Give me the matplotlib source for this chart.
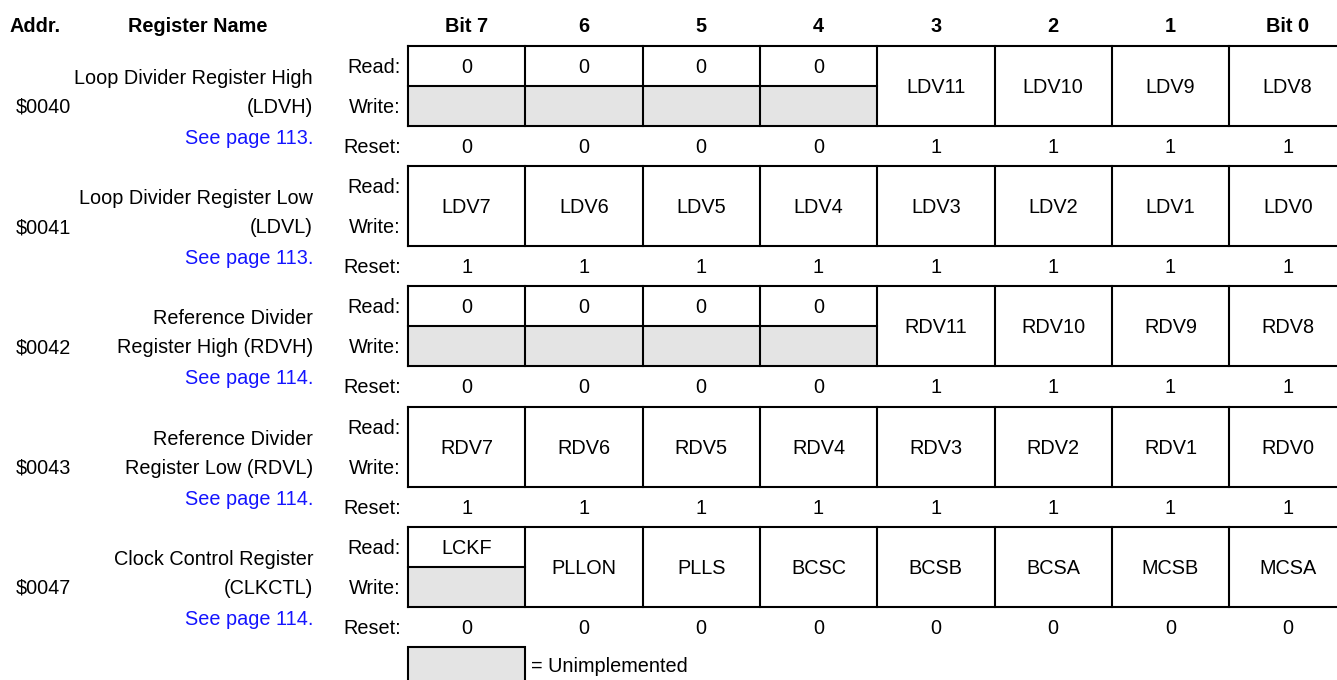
import matplotlib
matplotlib.use('Agg')
import matplotlib.pyplot as plt
from matplotlib.patches import Rectangle

plt.rcParams['font.family'] = ['Liberation Sans', 'DejaVu Sans']

# register map data
bit_headers = ['Bit 7', '6', '5', '4', '3', '2', '1', 'Bit 0']
addrs = ['$0040', '$0041', '$0042', '$0043', '$0047']
name_line1 = ['Loop Divider Register High', 'Loop Divider Register Low',
              'Reference Divider', 'Reference Divider', 'Clock Control Register']
name_line2 = ['(LDVH)', '(LDVL)', 'Register High (RDVH)', 'Register Low (RDVL)', '(CLKCTL)']
pages = ['See page 113.', 'See page 113.', 'See page 114.', 'See page 114.', 'See page 114.']

# None in write row = unimplemented (grey); same label in read and write = merged cell
read_rows = [
    ['0', '0', '0', '0', 'LDV11', 'LDV10', 'LDV9', 'LDV8'],
    ['LDV7', 'LDV6', 'LDV5', 'LDV4', 'LDV3', 'LDV2', 'LDV1', 'LDV0'],
    ['0', '0', '0', '0', 'RDV11', 'RDV10', 'RDV9', 'RDV8'],
    ['RDV7', 'RDV6', 'RDV5', 'RDV4', 'RDV3', 'RDV2', 'RDV1', 'RDV0'],
    ['LCKF', 'PLLON', 'PLLS', 'BCSC', 'BCSB', 'BCSA', 'MCSB', 'MCSA'],
]
write_rows = [
    [None, None, None, None, 'LDV11', 'LDV10', 'LDV9', 'LDV8'],
    ['LDV7', 'LDV6', 'LDV5', 'LDV4', 'LDV3', 'LDV2', 'LDV1', 'LDV0'],
    [None, None, None, None, 'RDV11', 'RDV10', 'RDV9', 'RDV8'],
    ['RDV7', 'RDV6', 'RDV5', 'RDV4', 'RDV3', 'RDV2', 'RDV1', 'RDV0'],
    [None, 'PLLON', 'PLLS', 'BCSC', 'BCSB', 'BCSA', 'MCSB', 'MCSA'],
]
reset_rows = [
    ['0', '0', '0', '0', '1', '1', '1', '1'],
    ['1', '1', '1', '1', '1', '1', '1', '1'],
    ['0', '0', '0', '0', '1', '1', '1', '1'],
    ['1', '1', '1', '1', '1', '1', '1', '1'],
    ['0', '0', '0', '0', '0', '0', '0', '0'],
]

W, H = 1337, 680
fig = plt.figure(figsize=(W / 100, H / 100), dpi=100)
ax = fig.add_axes([0, 0, 1, 1])
ax.set_xlim(0, W)
ax.set_ylim(H, 0)
ax.axis('off')

grey = '#e4e4e4'
lw = 1.5
fs = 14.3
x0 = 408
cw = 117.3
top0 = 46
block = 120.2
rh = 40
dy = 1.5  # small nudge so caps sit centred like the original


def put(x, y, s, **kw):
    ax.text(x, y + dy, s, fontsize=fs, va='center', **kw)


put(10, 25, 'Addr.', fontweight='bold', ha='left')
put(198, 25, 'Register Name', fontweight='bold', ha='center')
for i, h in enumerate(bit_headers):
    put(x0 + (i + 0.5) * cw, 25, h, fontweight='bold', ha='center')

for k in range(len(addrs)):
    top = top0 + k * block
    put(16, top + 60, addrs[k], ha='left')
    put(313, top + 31, name_line1[k], ha='right')
    put(313, top + 60, name_line2[k], ha='right')
    put(313, top + 91, pages[k], ha='right', color='#1414ff')
    put(401, top + 20, 'Read:', ha='right')
    put(401, top + 60, 'Write:', ha='right')
    put(401, top + 100, 'Reset:', ha='right')

    for i in range(8):
        cx = x0 + i * cw
        r = read_rows[k][i]
        wv = write_rows[k][i]
        if r == wv:
            put(cx + cw / 2, top + rh, r, ha='center')
        else:
            put(cx + cw / 2, top + rh / 2, r, ha='center')
            if wv is None:
                ax.add_patch(Rectangle((cx, top + rh), cw, rh, facecolor=grey, edgecolor='none'))
            else:
                put(cx + cw / 2, top + 1.5 * rh, wv, ha='center')
            ax.plot([cx, cx + cw], [top + rh, top + rh], color='black', lw=lw)
        ax.plot([cx, cx], [top, top + 2 * rh], color='black', lw=lw)
        put(cx + cw / 2, top + 100, reset_rows[k][i], ha='center')
    ax.plot([x0, x0 + 8 * cw], [top, top], color='black', lw=lw)
    ax.plot([x0, x0 + 8 * cw], [top + 2 * rh, top + 2 * rh], color='black', lw=lw)

# legend
ax.add_patch(Rectangle((x0, 647), cw, 45, facecolor=grey, edgecolor='black', lw=lw, clip_on=False))
put(x0 + cw + 6, 665, '= Unimplemented', ha='left')

fig.savefig('out.png', dpi=100)
